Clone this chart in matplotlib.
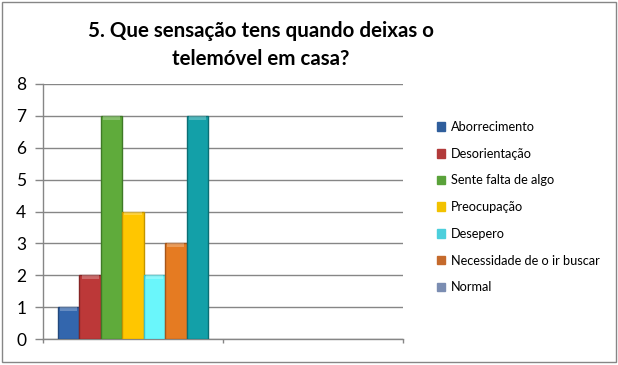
import matplotlib.pyplot as plt
from matplotlib.patches import Patch, Rectangle

categories = ['Aborrecimento', 'Desorientação', 'Sente falta de algo', 'Preocupação',
              'Desepero', 'Necessidade de o ir buscar', 'Normal']
values = [1, 2, 7, 4, 2, 3, 7]
bar_colors = ['#3366AD', '#BC3838', '#5FAB3B', '#FFC600', '#6AF6FB', '#E57B22', '#13A0A8']
edge_colors = ['#22487C', '#852424', '#3F7A26', '#C29400', '#3FBFC6', '#A5561A', '#0B6E74']
legend_colors = ['#2F5E9C', '#B23A3A', '#5AA23A', '#F2C200', '#4CCFDC', '#C56A2C', '#7B8DB2']
yticks = list(range(0, 9))

plt.rcParams['font.family'] = ['Lato', 'DejaVu Sans']
grey = '#868686'

fig = plt.figure(figsize=(6.18, 3.65), dpi=100)
W, H = 618, 365
ax = fig.add_axes([43 / W, (H - 339) / H, 360 / W, (339 - 84) / H])

w = 0.119
n = len(values)
for i, (v, c, ec) in enumerate(zip(values, bar_colors, edge_colors)):
    x = (i - (n - 1) / 2) * w
    ax.bar(x, v, width=w, color=c, edgecolor=ec, linewidth=1.0, zorder=3)
    # light bevel on top of each bar
    ax.bar(x, 0.12, bottom=v - 0.12, width=w * 0.8, color='white', alpha=0.25,
           linewidth=0, zorder=4)

ax.set_xlim(-0.5, 1.5)
ax.set_ylim(0, 8)
ax.set_yticks(yticks)
ax.set_yticklabels([str(t) for t in yticks], fontsize=12.5)
ax.set_xticks([-0.5, 0.5, 1.5])
ax.set_xticklabels([])
ax.tick_params(axis='y', length=6, color=grey, width=1, pad=6)
ax.tick_params(axis='x', length=3, color=grey, width=1)
ax.yaxis.grid(True, color=grey, linewidth=1)
ax.set_axisbelow(True)
for s in ['top', 'right']:
    ax.spines[s].set_visible(False)
for s in ['left', 'bottom']:
    ax.spines[s].set_color(grey)
    ax.spines[s].set_linewidth(1)

handles = [Patch(facecolor=c, edgecolor=c) for c in legend_colors]
fig.legend(handles, categories, loc='upper left', bbox_to_anchor=(432 / W, 1 - 116 / H),
           frameon=False, fontsize=9.2, handlelength=0.65, handleheight=0.65,
           handletextpad=0.4, labelspacing=1.15, borderaxespad=0)

fig.text(261 / W, 1 - 45 / H, '5. Que sensação tens quando deixas o\ntelemóvel em casa?',
         ha='center', va='center', fontsize=14.8, fontweight='bold', linespacing=1.5)

fig.patches.append(Rectangle((2 / W, 3 / H), 614 / W, 360 / H, transform=fig.transFigure,
                             fill=False, edgecolor=grey, linewidth=1))

fig.savefig('out.png', dpi=100)
